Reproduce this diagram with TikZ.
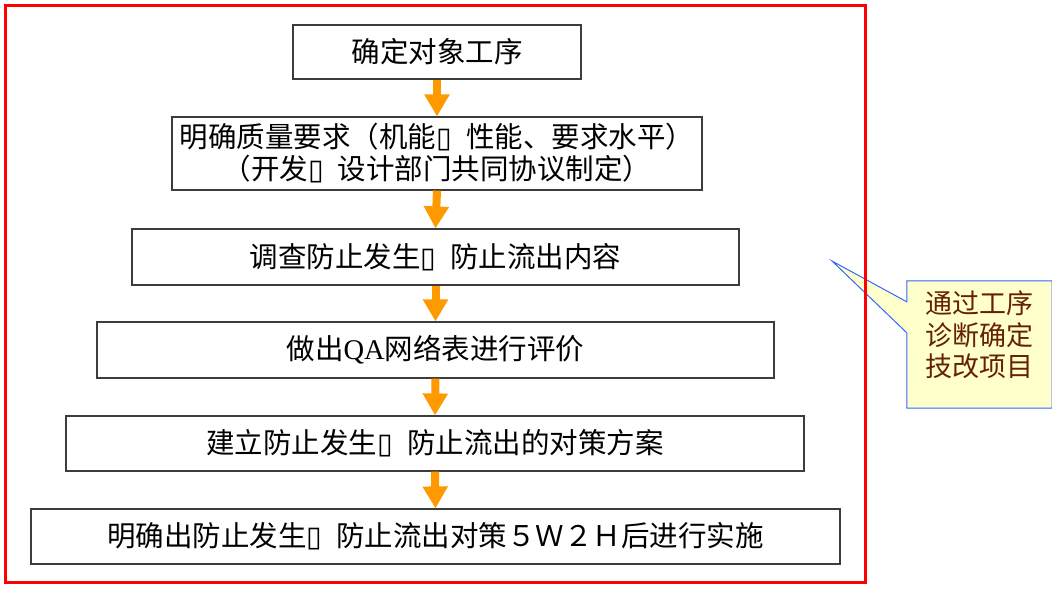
\documentclass[tikz,border=0pt]{standalone}
\usepackage{fontspec}
\setmainfont{Noto Sans CJK SC}
\newfontfamily\latinserif{Liberation Serif}
\newfontfamily\dejavu{DejaVu Sans}
\usetikzlibrary{arrows.meta,calc}
\definecolor{flowor}{RGB}{255,153,0}
\definecolor{calfill}{RGB}{255,255,204}
\definecolor{calline}{RGB}{51,102,255}
\definecolor{caltext}{RGB}{102,34,0}
\definecolor{boxline}{RGB}{60,60,60}
\newcommand\tofubox{{\dejavu\char"25AF}\hspace{0.5em}}
\tikzset{
  stepbox/.style={draw=boxline, line width=1.2pt, fill=white, inner sep=0pt, align=center,
    font=\fontsize{28.5}{32}\selectfont},
  flow/.style={draw=flowor, line width=8pt, -{Triangle[width=24pt,length=22pt]}},
  calloutshape/.style={fill=calfill, draw=calline, line width=1pt},
  frameline/.style={draw=red, line width=3.5pt}
}
\begin{document}
\begin{tikzpicture}[x=1pt,y=-1pt]
\useasboundingbox (0,0) rectangle (1052,590);
% callout
\node[minimum width=145pt, minimum height=127pt, inner sep=0pt] (call) at (979.5,344.5) {};
\coordinate (tip) at (832,261);
\path[calloutshape] (call.north west) -- (call.north east) -- (call.south east) -- (call.south west)
  -- ($(call.north west)+(0,52)$) -- (tip) -- ($(call.north west)+(0,21)$) -- cycle;
\node[align=center, text=caltext, font=\fontsize{27}{31.5}\selectfont, inner sep=0pt] (calltext) at (979,335)
  {通过工序\\诊断确定\\技改项目};
% boxes
\node[stepbox, minimum width=288pt, minimum height=54pt] (b1) at (437,52) {确定对象工序};
\node[stepbox, minimum width=530pt, minimum height=73pt] (b2) at (437,153.5)
  {明确质量要求（机能\tofubox 性能、要求水平）\\（开发\tofubox 设计部门共同协议制定）};
\node[stepbox, minimum width=607pt, minimum height=56pt] (b3) at (435.5,257) {调查防止发生\tofubox 防止流出内容};
\node[stepbox, minimum width=677pt, minimum height=56pt] (b4) at (435.5,350) {做出{\latinserif QA}网络表进行评价};
\node[stepbox, minimum width=738pt, minimum height=55pt] (b5) at (435,443.5) {建立防止发生\tofubox 防止流出的对策方案};
\node[stepbox, minimum width=809pt, minimum height=55pt] (b6) at (435.5,536.5) {明确出防止发生\tofubox 防止流出对策５Ｗ２Ｈ后进行实施};
% arrows
\draw[flow] (b1.south) -- (b2.north);
\draw[flow] (b2.south) -- (b3.north);
\draw[flow] (b3.south) -- (b4.north);
\draw[flow] (b4.south) -- (b5.north);
\draw[flow] (b5.south) -- (b6.north);
% frame
\draw[frameline] (5.5,5.5) rectangle (865.5,582.5);
\end{tikzpicture}
\end{document}
